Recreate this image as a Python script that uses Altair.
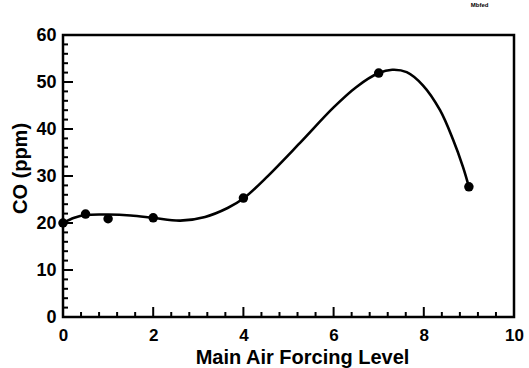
import altair as alt
import pandas as pd

# measured data points
pt_x = [0, 0.5, 1.0, 2.0, 4.0, 7.0, 9.0]
pt_y = [20.0, 21.9, 20.9, 21.1, 25.3, 51.9, 27.7]

# fitted curve
curve_x = [0, 0.25, 0.5, 1.0, 1.5, 2.0, 2.6, 3.15, 3.65, 4.0, 4.5, 5.25, 6.0, 6.5, 7.0, 7.3, 7.62, 7.98, 8.36, 8.65, 8.87, 9.0]
curve_y = [20.0, 21.1, 21.7, 21.8, 21.6, 21.1, 20.5, 21.3, 23.2, 25.2, 29.6, 37.0, 44.6, 48.9, 51.9, 52.6, 52.1, 49.3, 44.0, 37.7, 31.9, 27.7]

# tick positions
x_major = [0, 2, 4, 6, 8, 10]
x_minor = [0.4, 0.8, 1.2, 1.6, 2.4, 2.8, 3.2, 3.6, 4.4, 4.8, 5.2, 5.6, 6.4, 6.8, 7.2, 7.6, 8.4, 8.8, 9.2, 9.6]
y_major = [0, 10, 20, 30, 40, 50, 60]
y_minor = [2, 4, 6, 8, 12, 14, 16, 18, 22, 24, 26, 28, 32, 34, 36, 38, 42, 44, 46, 48, 52, 54, 56, 58]

W, H = 451, 282
FONT = "Liberation Sans"

xs = alt.Scale(domain=[0, 10], nice=False, zero=False)
ys = alt.Scale(domain=[0, 60], nice=False, zero=False)

pts = pd.DataFrame({"x": pt_x, "y": pt_y})
crv = pd.DataFrame({"x": curve_x, "y": curve_y})

base_x = alt.X("x:Q", scale=xs,
               axis=alt.Axis(title="Main Air Forcing Level", values=x_major, format="d",
                             ticks=False, domain=False, grid=False, labelFlush=False,
                             labelFont=FONT, labelFontSize=17, labelFontWeight="bold",
                             labelColor="black", labelPadding=10,
                             titleFont=FONT, titleFontSize=20, titleFontWeight="bold",
                             titleColor="black", titleX=239, titleY=46,
                             titleBaseline="alphabetic", titleAlign="center"))
base_y = alt.Y("y:Q", scale=ys,
               axis=alt.Axis(title="CO (ppm)", values=y_major, format="d",
                             ticks=False, domain=False, grid=False, labelFlush=False,
                             labelFont=FONT, labelFontSize=18, labelFontWeight="bold",
                             labelColor="black", labelPadding=7,
                             titleFont=FONT, titleFontSize=20, titleFontWeight="bold",
                             titleColor="black", titleX=-43, titleY=133,
                             titleAngle=270, titleBaseline="middle", titleAlign="center"))

curve = alt.Chart(crv).mark_line(color="black", strokeWidth=2.6, interpolate="catmull-rom").encode(
    x=base_x, y=base_y)
points = alt.Chart(pts).mark_circle(color="black", size=90, opacity=1).encode(
    x=alt.X("x:Q", scale=xs), y=alt.Y("y:Q", scale=ys))

ytmaj = alt.Chart(pd.DataFrame({"y": y_major})).mark_rule(color="black", strokeWidth=2).encode(
    y=alt.Y("y:Q", scale=ys), x=alt.value(0), x2=alt.value(10))
ytmin = alt.Chart(pd.DataFrame({"y": y_minor})).mark_rule(color="black", strokeWidth=2).encode(
    y=alt.Y("y:Q", scale=ys), x=alt.value(0), x2=alt.value(5))
xtmaj = alt.Chart(pd.DataFrame({"x": x_major})).mark_rule(color="black", strokeWidth=2).encode(
    x=alt.X("x:Q", scale=xs), y=alt.value(H), y2=alt.value(H - 10))
xtmin = alt.Chart(pd.DataFrame({"x": x_minor})).mark_rule(color="black", strokeWidth=2).encode(
    x=alt.X("x:Q", scale=xs), y=alt.value(H), y2=alt.value(H - 5))

chart = alt.layer(curve, points, ytmaj, ytmin, xtmaj, xtmin).properties(
    width=W, height=H,
    autosize=alt.AutoSizeParams(type="none"),
    padding={"left": 63, "top": 35, "right": 15, "bottom": 51},
    title=alt.TitleParams(text="Mbfed", anchor="end", fontSize=6, font=FONT,
                          fontWeight="bold", color="black", offset=18, dx=-35),
    background="white",
).configure_view(stroke="black", strokeWidth=2.5).configure_axis(grid=False)

chart.save("out.html", embed_options={"renderer": "svg", "actions": False})
